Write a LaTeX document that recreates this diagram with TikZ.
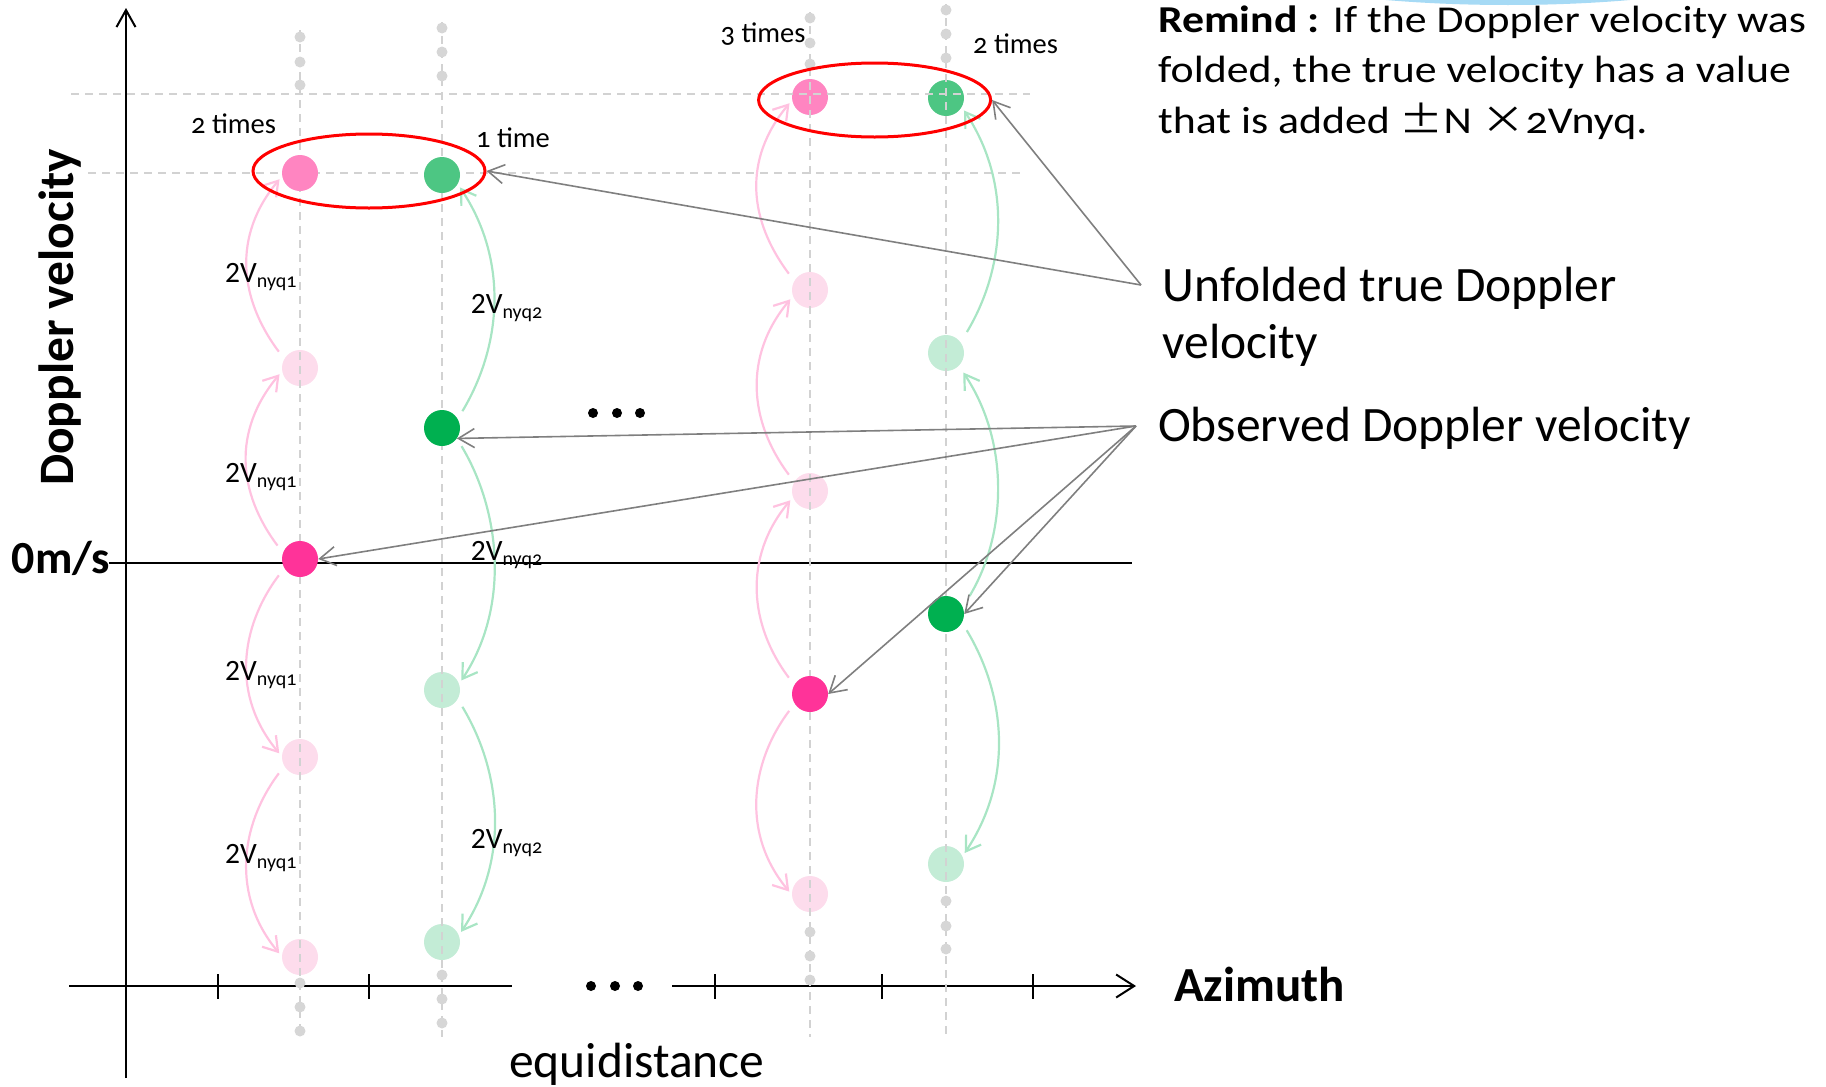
\documentclass[tikz,border=0pt]{standalone}
\usepackage{graphicx}
\usepackage{fontspec}
\setmainfont{Carlito}[Numbers=OldStyle]
\newfontfamily\cjkfont{Noto Sans CJK SC}
\usetikzlibrary{arrows.meta,shapes.geometric}

\definecolor{obspink}{HTML}{FF3399}
\definecolor{trupink}{HTML}{FF85C1}
\definecolor{altpink}{HTML}{FDDCEC}
\definecolor{pinkline}{HTML}{FFC2E0}
\definecolor{obsgreen}{HTML}{00B050}
\definecolor{trugreen}{HTML}{4DC683}
\definecolor{altgreen}{HTML}{C3ECD6}
\definecolor{greenline}{HTML}{A8E5C4}
\definecolor{guide}{HTML}{D2D2D2}
\definecolor{dotgray}{HTML}{D6D6D6}
\definecolor{pointergray}{HTML}{7F7F7F}
\definecolor{ringred}{HTML}{FF0000}
\definecolor{skyarc}{HTML}{A6DAF5}

% 2V with a lowered "nyq" index
\newcommand{\nyq}[1]{{\addfontfeatures{Numbers=Lining}2V}\raisebox{-5.5pt}{\fontsize{20}{20}\selectfont nyq#1}}

\begin{document}
\begin{tikzpicture}[x=1pt,y=-1pt,
  vel/.style={circle,minimum size=36pt,inner sep=0pt},
  obsP/.style={vel,fill=obspink},
  truP/.style={vel,fill=trupink},
  altP/.style={vel,fill=altpink},
  obsG/.style={vel,fill=obsgreen},
  truG/.style={vel,fill=trugreen},
  altG/.style={vel,fill=altgreen},
  guideline/.style={draw=guide,line width=1.8pt,dash pattern=on 8pt off 6pt},
  foldring/.style={ellipse,draw=ringred,line width=3pt,minimum width=232pt,minimum height=74pt,inner sep=0pt},
  foldP/.style={draw=pinkline,line width=2.2pt,-{Straight Barb[length=14pt,width=18pt]},shorten <=9pt,shorten >=4pt},
  foldG/.style={draw=greenline,line width=2.2pt,-{Straight Barb[length=14pt,width=18pt]},shorten <=9pt,shorten >=4pt},
  ptrline/.style={draw=pointergray,line width=1.6pt,-{Straight Barb[length=16pt,width=19pt]}},
  axisline/.style={line width=2pt},
  biglabel/.style={inner sep=0pt,anchor=base west,font=\fontsize{49.5}{56}\selectfont},
  timeslabel/.style={inner sep=0pt,anchor=base west,font=\fontsize{28.5}{30}\selectfont},
  nyqlabel/.style={inner sep=0pt,anchor=base west,font=\fontsize{29.5}{30}\selectfont},
  remindline/.style={inner sep=0pt,anchor=base west,font=\fontsize{38}{50}\selectfont},
]
\useasboundingbox (0,0) rectangle (1826,1087);

% light blue shape peeking in at the top edge
\fill[skyarc] (1508,-60) ellipse[x radius=317pt,y radius=65pt];

% axes
\coordinate (yfoot) at (126,1078);
\coordinate (ytip) at (126,8);
\draw[axisline,-{Straight Barb[length=17pt,width=19pt]}] (yfoot) -- (ytip);
\coordinate (xa) at (69,986);
\coordinate (xb) at (512,986);
\coordinate (xc) at (672,986);
\coordinate (xtip) at (1136,986);
\draw[axisline] (xa) -- (xb);
\draw[axisline,-{Straight Barb[length=18pt,width=23pt]}] (xc) -- (xtip);
\foreach \t in {218,369,715,882,1033} \draw[axisline] (\t,974) -- (\t,999);
\coordinate (zl) at (109,563);
\coordinate (zr) at (1132,563);
\draw[axisline] (zl) -- (zr);

% ellipsis dots
\foreach \x in {593,617,640} \fill (\x,413) circle[radius=5pt];
\foreach \x in {591,615,638} \fill (\x,986) circle[radius=5pt];

% aliased (folded-away) values
\node[altP] (p1a) at (300,368) {};
\node[altP] (p1b) at (300,757) {};
\node[altP] (p1c) at (300,957) {};
\node[altG] (g2a) at (442,690) {};
\node[altG] (g2b) at (442,942) {};
\node[truP] (p3t) at (810,97) {};
\node[altP] (p3a) at (810,290) {};
\node[altP] (p3b) at (810,491) {};
\node[altP] (p3c) at (810,894) {};
\node[truG] (g4t) at (946,98) {};
\node[altG] (g4a) at (946,353) {};
\node[altG] (g4b) at (946,864) {};

% guide lines
\draw[guideline] (71,94) -- (1030,94);
\draw[guideline] (88,173) -- (1021,173);
\draw[guideline] (300,30) -- (300,1037);
\draw[guideline] (442,22) -- (442,1037);
\draw[guideline] (810,12) -- (810,1037);
\draw[guideline] (946,4) -- (946,1037);

% continuation dots
\foreach \y in {37,62,85,983,1007,1031} \fill[dotgray] (300,\y) circle[radius=5.5pt];
\foreach \y in {28,52,76,975,999,1023} \fill[dotgray] (442,\y) circle[radius=5.5pt];
\foreach \y in {18,43,64,932,956,980} \fill[dotgray] (810,\y) circle[radius=5.5pt];
\foreach \y in {10,34,58,901,926,949} \fill[dotgray] (946,\y) circle[radius=5.5pt];

% unfolded and observed values
\node[truP] (p1t) at (300,173) {};
\node[truG] (g2t) at (442,175) {};
\node[obsP] (p1o) at (300,559) {};
\node[obsG] (g2o) at (442,428) {};
\node[obsP] (p3o) at (810,694) {};
\node[obsG] (g4o) at (946,614) {};

% folding steps, first column
\draw[foldP] (p1o.160) .. controls +(-45,-60) and +(-50,60) .. (p1a.190);
\draw[foldP] (p1a.150) .. controls +(-45,-60) and +(-50,60) .. (p1t.190);
\draw[foldP] (p1o.210) .. controls +(-45,60) and +(-50,-60) .. (p1b.178);
\draw[foldP] (p1b.210) .. controls +(-45,60) and +(-50,-60) .. (p1c.178);
% second column
\draw[foldG] (g2o.30) .. controls +(45,-75) and +(50,75) .. (g2t.-30);
\draw[foldG] (g2o.-35) .. controls +(45,75) and +(50,-75) .. (g2a.20);
\draw[foldG] (g2a.-30) .. controls +(45,75) and +(50,-75) .. (g2b.22);
% third column
\draw[foldP] (p3o.150) .. controls +(-45,-60) and +(-50,60) .. (p3b.200);
\draw[foldP] (p3b.150) .. controls +(-45,-60) and +(-50,60) .. (p3a.200);
\draw[foldP] (p3a.150) .. controls +(-45,-60) and +(-50,60) .. (p3t.190);
\draw[foldP] (p3o.212) .. controls +(-45,60) and +(-50,-60) .. (p3c.182);
% fourth column
\draw[foldG,shorten <=13pt,shorten >=8pt] (g4o.22) .. controls +(45,-75) and +(50,75) .. (g4a.-45);
\draw[foldG,shorten <=12pt] (g4a.36) .. controls +(45,-75) and +(50,75) .. (g4t.-30);
\draw[foldG] (g4o.-28) .. controls +(45,75) and +(50,-75) .. (g4b.25);

% rings around the unfolded values
\node[foldring] (e1) at (369,171) {};
\node[foldring] (e2) at (874.6,100) {};

% callouts
\coordinate (unf) at (1141,285);
\coordinate (obsv) at (1136,426);
\draw[ptrline] (unf) -- (e1.east);
\draw[ptrline] (unf) -- (e2.east);
\draw[ptrline] (obsv) -- (g2o.-35);
\draw[ptrline] (obsv) -- (p1o.east);
\draw[ptrline] (obsv) -- (g4o.east);
\draw[ptrline] (obsv) -- (p3o.east);

% fold counts
\node[timeslabel] (n1) at (191,133) {2 times};
\node[timeslabel] (n2) at (476,147) {1 time};
\node[timeslabel] (n3) at (720.5,42) {3 times};
\node[timeslabel] (n4) at (973,53) {2 times};

% Nyquist interval labels
\node[nyqlabel] (qa1) at (225,282) {\nyq{1}};
\node[nyqlabel] (qa2) at (225,482) {\nyq{1}};
\node[nyqlabel] (qa3) at (225,680) {\nyq{1}};
\node[nyqlabel] (qa4) at (225,863) {\nyq{1}};
\node[nyqlabel] (qb1) at (470.7,313) {\nyq{2}};
\node[nyqlabel] (qb2) at (470.7,560) {\nyq{2}};
\node[nyqlabel] (qb3) at (470.7,848) {\nyq{2}};

% axis titles
\node[rotate=90,anchor=base,inner sep=0pt,font=\bfseries\fontsize{49.5}{50}\selectfont] (ylab) at (73,317.5) {Doppler velocity};
\node[anchor=base west,inner sep=0pt,font=\bfseries\fontsize{46}{48}\selectfont\addfontfeatures{Numbers=Lining}] (zero) at (11.5,573) {0m/s};
\node[anchor=base west,inner sep=0pt,font=\bfseries\fontsize{49}{50}\selectfont] (xlab) at (1174,1001.7) {Azimuth};
\node[biglabel] (eqd) at (509,1077) {equidistance};

% legend texts
\node[remindline] (r1) at (1158,32) {\scalebox{1.153}[1]{\textbf{Remind :} If the Doppler velocity was}};
\node[remindline] (r2) at (1158,82) {\scalebox{1.153}[1]{folded, the true velocity has a value}};
\node[remindline] (r3) at (1158,133) {\scalebox{1.153}[1]{that is added {\cjkfont ±}N {\cjkfont ×}2Vnyq.}};
\node[biglabel] (u1) at (1162.5,301.7) {Unfolded true Doppler};
\node[biglabel] (u2) at (1162.5,358) {velocity};
\node[biglabel] (ob) at (1158,441.7) {Observed Doppler velocity};
\end{tikzpicture}
\end{document}
